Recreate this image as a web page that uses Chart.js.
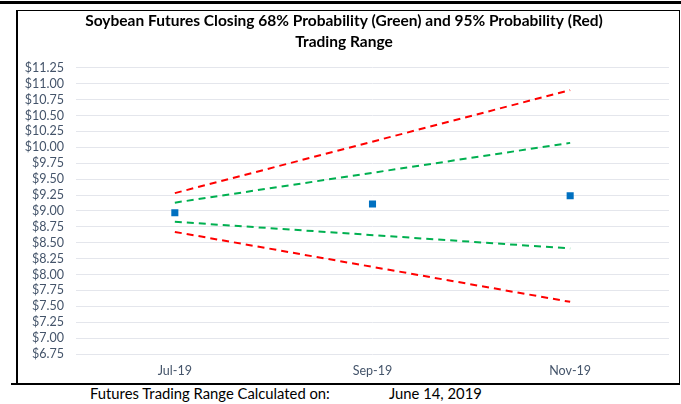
<!DOCTYPE html>
<html>
<head>
<meta charset="utf-8">
<script src="https://cdn.jsdelivr.net/npm/chart.js@4"></script>
<style>
  body { margin: 0; background: #fff; font-family: Lato, "Open Sans", sans-serif; }
  #topline { position: absolute; left: 0; top: 1px; width: 681px; height: 3px; background: #000; }
  #box { position: absolute; left: 16px; top: 10px; width: 661px; height: 372px; border: 1px solid #000; border-bottom-width: 2px; border-left-width: 2px; }
  #tick { position: absolute; left: 11px; top: 383px; width: 7px; height: 2px; background: #000; }
  #wrap { position: absolute; left: 19px; top: 11px; width: 659px; height: 371px; }
  .foot { position: absolute; top: 384px; font-size: 14.8px; color: #000; }
</style>
</head>
<body>
<div id="topline"></div>
<div id="box"></div>
<div id="tick"></div>
<div id="wrap"><canvas id="chart"></canvas></div>
<div class="foot" style="left:90px">Futures Trading Range Calculated on:</div>
<div class="foot" style="left:389px">June 14, 2019</div>
<script>
document.addEventListener("DOMContentLoaded", function() {
    // Contract months and values
    const months = ["Jul-19", "Sep-19", "Nov-19"];
    const closing = [8.97, 9.11, 9.24];
    const green68High = [9.13, null, 10.07];
    const green68Low = [8.83, null, 8.41];
    const red95High = [9.28, null, 10.90];
    const red95Low = [8.67, null, 7.57];

    const rangeLine = (data, color) => ({
      data: data,
      borderColor: color,
      borderWidth: 2,
      borderDash: [7, 5],
      pointRadius: 0,
      spanGaps: true,
      fill: false
    });

    const canvas = document.getElementById("chart");

    new Chart(canvas, {
      type: "line",
      data: {
        labels: months,
        datasets: [
          rangeLine(red95High, "#FF0000"),
          rangeLine(green68High, "#00B050"),
          rangeLine(green68Low, "#00B050"),
          rangeLine(red95Low, "#FF0000"),
          {
            data: closing,
            showLine: false,
            pointStyle: "rect",
            pointRadius: 5,
            backgroundColor: "#0070C0",
            borderColor: "#0070C0",
            borderWidth: 0
          }
        ]
      },
      options: {
        responsive: true,
        maintainAspectRatio: false,
        animation: false,
        layout: { padding: { left: 0, right: 9, top: 0, bottom: 0 } },
        plugins: {
          legend: { display: false },
          tooltip: { enabled: false },
          title: {
            display: true,
            text: ["Soybean Futures Closing 68% Probability (Green) and 95% Probability (Red)", "Trading Range"],
            color: "#000",
            font: { family: "Lato", size: 15.5, weight: "bold", lineHeight: 1.35 },
            padding: { top: 0, bottom: 15 }
          }
        },
        scales: {
          x: {
            offset: true,
            grid: { display: false, drawTicks: false },
            border: { display: false },
            ticks: { color: "#44546A", font: { family: "Lato", size: 12.5 }, padding: 9 },
            afterFit: s => { s.height = 28; }
          },
          y: {
            min: 6.75,
            max: 11.25,
            border: { display: false },
            grid: { color: "#E4E6EC", lineWidth: 1, drawTicks: false },
            ticks: {
              stepSize: 0.25,
              autoSkip: false,
              color: "#44546A",
              padding: 12,
              font: { family: "Lato", size: 12.5 },
              callback: v => "$" + v.toFixed(2)
            },
            afterFit: s => { s.width = 57; }
          }
        }
      }
    });
  });
</script>
</body>
</html>
